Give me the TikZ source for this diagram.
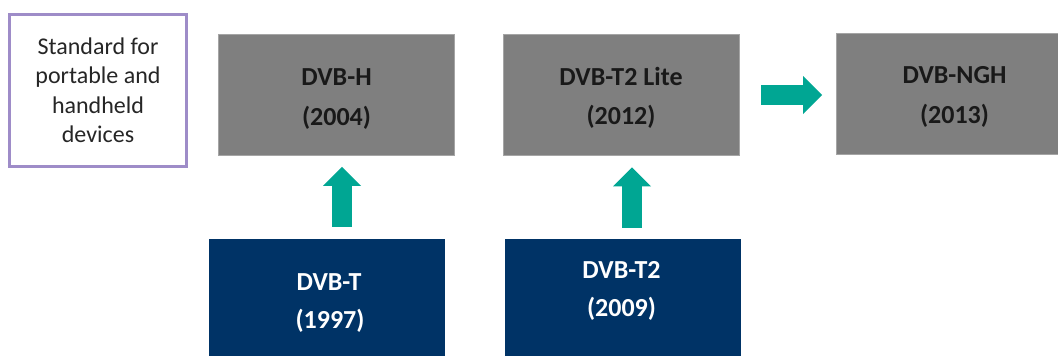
\documentclass[tikz,border=0pt]{standalone}
\usepackage{fontspec}
\setmainfont{Carlito}
\usetikzlibrary{arrows.meta,calc}
\definecolor{boxgray}{RGB}{127,127,127}
\definecolor{navy}{RGB}{0,51,102}
\definecolor{tealarrow}{RGB}{0,166,147}
\definecolor{lavender}{RGB}{158,140,200}
\tikzset{
  graybox/.style={fill=boxgray, draw=boxgray!70!white, line width=0.8pt, minimum width=236pt, minimum height=121pt, inner sep=0pt},
  navybox/.style={fill=navy, draw=none, minimum width=236pt, minimum height=130pt, inner sep=0pt},
  notebox/.style={draw=lavender, line width=3pt, fill=white, minimum width=177pt, minimum height=152pt, inner sep=0pt, align=center, font=\fontsize{24}{29.5}\selectfont, text=black!85},
  darklbl/.style={anchor=base, inner sep=0pt, font=\bfseries\fontsize{26}{30}\selectfont, text=black!90},
  lightlbl/.style={anchor=base, inner sep=0pt, font=\bfseries\fontsize{26}{30}\selectfont, text=white},
  fatarrow/.style={draw=tealarrow, line width=20pt, -{Triangle[width=38pt,length=19pt,line width=0pt]}, fill=tealarrow}
}
\begin{document}
\begin{tikzpicture}[x=1pt,y=-1pt]
\clip (0,0) rectangle (1058,356);
\fill[white] (0,0) rectangle (1058,356);
% note box
\node[notebox] (note) at (98,90.5) {Standard for\\portable and\\handheld\\devices};
% gray boxes
\node[graybox] (dvbh) at (336,95) {};
\node[graybox] (lite) at (621,94.5) {};
\node[graybox] (ngh) at (954.5,93.5) {};
\node[darklbl] (dvbhT) at (336.5,85) {DVB-H};
\node[darklbl] (dvbhY) at (336.5,125) {(2004)};
\node[darklbl] (liteT) at (621,85) {DVB-T2 Lite};
\node[darklbl] (liteY) at (621,124) {(2012)};
\node[darklbl] (nghT) at (954.5,83) {DVB-NGH};
\node[darklbl] (nghY) at (954.5,123) {(2013)};
% navy boxes
\node[navybox] (dvbt) at (327,304) {};
\node[navybox] (dvbt2) at (622.5,304) {};
\node[lightlbl] (dvbtT) at (329,290) {DVB-T};
\node[lightlbl] (dvbtY) at (330,328) {(1997)};
\node[lightlbl] (dvbt2T) at (621.5,278) {DVB-T2};
\node[lightlbl] (dvbt2Y) at (621.5,316) {(2009)};
% arrows
\coordinate (a1s) at ($(dvbt.north)+(15,-12)$);
\coordinate (a1e) at ($(dvbh.south)+(6,11)$);
\draw[fatarrow] (a1s) -- (a1s |- a1e);
\coordinate (a2s) at ($(dvbt2.north)+(9.5,-11)$);
\coordinate (a2e) at ($(lite.south)+(11,12)$);
\draw[fatarrow] (a2s) -- (a2s |- a2e);
\coordinate (a3s) at ($(lite.east)+(22,0.5)$);
\coordinate (a3e) at ($(ngh.west)+(-14,0)$);
\draw[fatarrow] (a3s) -- (a3e |- a3s);
\end{tikzpicture}
\end{document}
